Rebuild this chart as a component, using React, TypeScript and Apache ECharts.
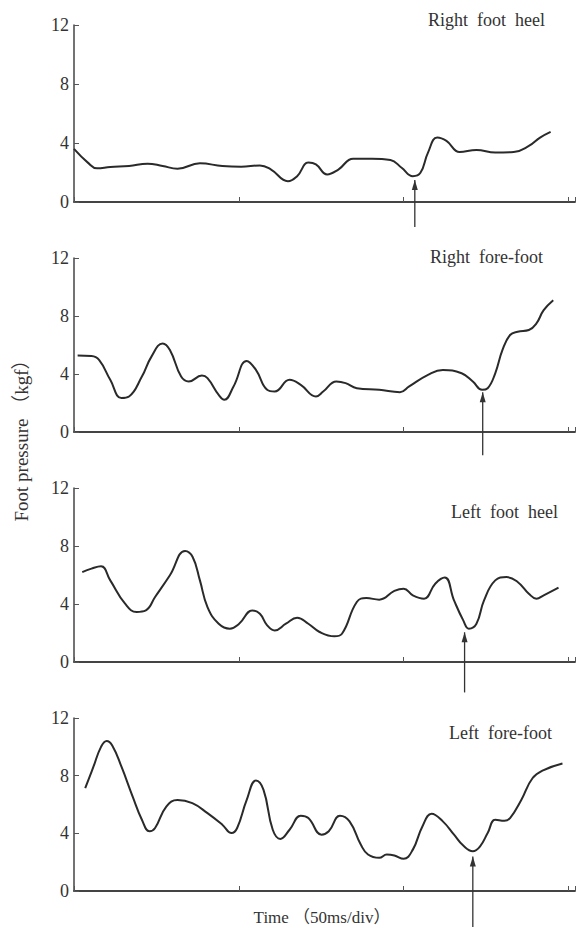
import React, { useEffect, useRef } from "react";
import * as echarts from "echarts";

// ---- data (time in ms, pressure in kgf) ----
const panelTitles = ["Right  foot  heel", "Right  fore-foot", "Left  foot  heel", "Left  fore-foot"];
const yTicks = [0, 4, 8, 12];

const rightHeel = [
  [0, 3.6], [4.2, 2.67], [7, 2.28], [11, 2.37], [16.7, 2.44], [22.3, 2.6], [26.9, 2.44], [31.4, 2.26],
  [38.2, 2.62], [45, 2.44], [50.7, 2.39], [56.4, 2.48], [59.8, 2.2], [64.9, 1.41], [67.7, 1.75],
  [71.1, 2.67], [73.4, 2.55], [76.8, 1.87], [80.2, 2.2], [84.7, 2.94], [90.4, 2.94], [96, 2.85],
  [99.4, 2.32], [102.8, 1.75], [105.1, 1.98], [107.4, 3.35], [110.2, 4.37], [113, 4.14], [117, 3.39],
  [122.1, 3.53], [127.8, 3.35], [133.4, 3.39], [138, 3.8], [141.4, 4.37], [144.6, 4.76],
];

const rightFore = [
  [1.1, 5.27], [5.3, 5.24], [7.6, 4.97], [11, 3.6], [14.4, 2.34], [16.7, 2.45], [20.6, 3.82], [23.5, 5.2],
  [26.9, 6.11], [29.1, 5.66], [32.5, 3.82], [34.8, 3.48], [38.8, 3.89], [40.5, 3.71], [43.9, 2.56],
  [45.6, 2.22], [48.4, 3.14], [52.4, 4.9], [55.2, 4.28], [58.6, 2.91], [60.9, 2.79], [65.4, 3.6],
  [68.8, 3.25], [73.4, 2.45], [75.6, 2.79], [79.6, 3.48], [82.4, 3.37], [85.8, 3.02], [92.6, 2.91],
  [98.9, 2.75], [101.7, 3.14], [107.4, 3.94], [111.9, 4.28], [117.6, 4.05], [121, 3.48], [123.8, 2.91],
  [125.5, 3.02], [127.8, 4.05], [130, 5.66], [132.3, 6.69], [134.6, 6.92], [138, 7.03], [140.3, 7.49],
  [142.5, 8.4], [145.4, 9.09],
];

const leftHeel = [
  [2.5, 6.2], [5.3, 6.44], [8.2, 6.6], [11, 5.63], [15.5, 4.02], [19, 3.45], [21.8, 3.56], [24.6, 4.48],
  [29.1, 5.98], [33.7, 7.66], [36, 7.24], [38.2, 5.63], [40.5, 3.79], [43.9, 2.64], [47.3, 2.3],
  [50.1, 2.64], [54.1, 3.56], [56.4, 3.33], [58.6, 2.53], [60.9, 2.18], [64.3, 2.64], [67.7, 3.06],
  [71.1, 2.64], [74.5, 2.07], [79, 1.77], [81.3, 1.95], [85.8, 4.14], [88.7, 4.41], [92.6, 4.3],
  [97.2, 4.9], [100, 5.06], [102.8, 4.6], [106.2, 4.37], [109.6, 5.4], [112.5, 5.82], [115.3, 4.25],
  [118.1, 2.87], [119.8, 2.3], [122.1, 2.64], [124.4, 4.25], [127.8, 5.63], [131.2, 5.86], [134.6, 5.52],
  [138, 4.71], [140.3, 4.37], [142.5, 4.6], [147, 5.13],
];

const leftFore = [
  [3.4, 7.13], [5.9, 8.62], [8.2, 10], [9.9, 10.41], [11.6, 10.1], [14.4, 8.62], [17.8, 6.55], [20.6, 4.94],
  [22.9, 4.14], [24.6, 4.37], [28, 5.86], [31.4, 6.32], [35.9, 6.09], [40.5, 5.4], [45, 4.6], [47.8, 4.02],
  [49.5, 4.37], [52.4, 6.32], [55.2, 7.66], [57.5, 7.01], [60.3, 4.25], [62.6, 3.61], [65.4, 4.25],
  [68.8, 5.22], [71.1, 5.06], [75.1, 3.91], [77.3, 4.14], [80.7, 5.22], [83.6, 4.83], [87, 3.22],
  [89.2, 2.53], [92.6, 2.3], [94.9, 2.53], [97.2, 2.46], [100, 2.23], [102.8, 2.87], [105.7, 4.48],
  [108.5, 5.36], [111.9, 4.83], [115.3, 3.91], [118.1, 3.15], [121, 2.76], [123.2, 3.1], [125.5, 4.02],
  [127.8, 4.94], [130.6, 4.87], [132.3, 5.06], [135.7, 6.32], [139.1, 7.82], [142.5, 8.39], [148.2, 8.85],
];

const panelSeries = [rightHeel, rightFore, leftHeel, leftFore];

// arrows marking the event in each panel
const arrowTimes = [103.4, 124, 118.5, 121];
const arrowTips = [1.5, 2.75, 2.05, 2.4];
const arrowTails = [-1.7, -1.6, -2.1, -2.5];

// ---- layout ----
const GRID_LEFT = 74;
const GRID_WIDTH = 501;
const GRID_TOPS = [25, 258, 488, 718];
const GRID_HEIGHTS = [177, 174, 174, 173];
const TITLE_POS = [
  [545, 20],
  [543, 257],
  [558, 512],
  [552, 733],
];

const INK = "#2a2a2a";
const SERIF = "Liberation Serif";

export default function App() {
  const ref = useRef<HTMLDivElement>(null);

  useEffect(() => {
    document.body.style.margin = "0";
    if (!ref.current) return;
    const chart = echarts.init(ref.current, undefined, { renderer: "svg" });

    const grid = GRID_TOPS.map((top, i) => ({
      left: GRID_LEFT,
      top,
      width: GRID_WIDTH,
      height: GRID_HEIGHTS[i],
      containLabel: false,
    }));

    const xAxis = GRID_TOPS.map((_, i) => ({
      type: "value",
      gridIndex: i,
      min: 0,
      max: 152,
      interval: 50,
      axisLine: { show: true, onZero: false, lineStyle: { color: "#444", width: 1.8 } },
      axisTick: { show: true, inside: true, length: 5, lineStyle: { color: "#555", width: 1 } },
      axisLabel: { show: false },
      splitLine: { show: false },
    }));

    const yAxis = GRID_TOPS.map((_, i) => ({
      type: "value",
      gridIndex: i,
      min: yTicks[0],
      max: yTicks[yTicks.length - 1],
      interval: 4,
      axisLine: { show: true, lineStyle: { color: "#444", width: 1.5 } },
      axisTick: { show: true, inside: true, length: 5, lineStyle: { color: "#555", width: 1 } },
      axisLabel: { show: true, color: "#333", fontFamily: SERIF, fontSize: 18, margin: 5 },
      splitLine: { show: false },
    }));

    const series: any[] = [];
    panelSeries.forEach((data, i) => {
      series.push({
        type: "line",
        xAxisIndex: i,
        yAxisIndex: i,
        data,
        smooth: 0.45,
        showSymbol: false,
        symbol: "none",
        lineStyle: { color: INK, width: 2 },
        z: 2,
      });
      series.push({
        type: "line",
        xAxisIndex: i,
        yAxisIndex: i,
        clip: false,
        showSymbol: true,
        data: [
          { value: [arrowTimes[i], arrowTails[i]], symbol: "none" },
          {
            value: [arrowTimes[i], arrowTips[i]],
            symbol: "triangle",
            symbolSize: [6, 10],
            symbolOffset: [0, 5],
          },
        ],
        lineStyle: { color: "#333", width: 1.3 },
        itemStyle: { color: "#333" },
        z: 3,
      });
    });

    const graphic: any[] = panelTitles.map((t, i) => ({
      type: "text",
      x: TITLE_POS[i][0],
      y: TITLE_POS[i][1],
      style: {
        text: t,
        fill: "#333",
        font: `18px "Liberation Serif", serif`,
        textAlign: "right",
        textVerticalAlign: "middle",
      },
    }));
    graphic.push({
      type: "text",
      x: 322,
      y: 917,
      style: {
        text: "Time （50ms/div）",
        fill: "#333",
        font: `17px "Liberation Serif", "Noto Sans CJK SC", serif`,
        textAlign: "center",
        textVerticalAlign: "middle",
      },
    });
    graphic.push({
      type: "text",
      x: 21,
      y: 436,
      rotation: Math.PI / 2,
      style: {
        text: "Foot pressure （kgf）",
        fill: "#333",
        font: `19px "Liberation Serif", "Noto Sans CJK SC", serif`,
        textAlign: "center",
        textVerticalAlign: "middle",
      },
    });

    chart.setOption({
      animation: false,
      backgroundColor: "#ffffff",
      grid,
      xAxis,
      yAxis,
      series,
      graphic,
    });

    return () => chart.dispose();
  }, []);

  return (
    <div
      ref={ref}
      style={{ position: "absolute", left: 0, top: 0, width: 583, height: 928, background: "#fff" }}
    />
  );
}
